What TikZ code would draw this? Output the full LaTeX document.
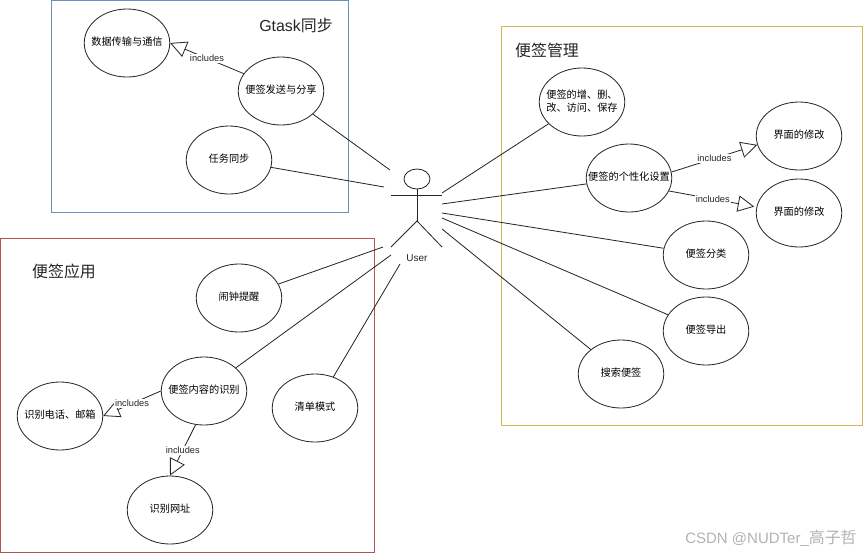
\documentclass[tikz,border=0pt]{standalone}
\usepackage{fontspec}
\setmainfont{Liberation Sans}
\newfontfamily\cjk{Noto Sans CJK SC}
\usepackage{tikz}
\usetikzlibrary{shapes,positioning,calc,arrows.meta}
\definecolor{boxblue}{HTML}{6C8EBF}
\definecolor{boxred}{HTML}{B85450}
\definecolor{boxyellow}{HTML}{D6B656}
\newcommand{\ucbox}[1]{\makebox[0pt]{\begin{tabular}{@{}c@{}}#1\end{tabular}}}

\begin{document}
\begin{tikzpicture}[
        x=0.03cm, y=-0.03cm,
        every node/.style={font=\fontsize{8.5}{10}\selectfont},
        usecase/.style={ellipse, draw=black!85, line width=0.7pt, inner sep=0pt, minimum width=2.565cm, minimum height=2.04cm, font=\cjk\fontsize{8.7}{11}\selectfont},
        title/.style={font=\cjk\fontsize{13.6}{16}\selectfont, text=black!85},
        link/.style={draw=black!85, line width=0.7pt},
        includes/.style={link, -{Triangle[open, length=14pt, width=14pt, line width=0.7pt]}},
        tag/.style={fill=white, inner sep=1pt, text=black!85, font=\fontsize{7.9}{9}\selectfont},
        actor/.style={draw=black!85, line width=0.7pt}
        ]
        \useasboundingbox (0,0) rectangle (864,553);

        \draw[boxblue, line width=0.7pt] (51,0.5) rectangle (348,212);
        \draw[boxred, line width=0.7pt] (0.5,238) rectangle (374,552);
        \draw[boxyellow, line width=0.7pt] (501,26) rectangle (862,425);

        \node[title] (gtasktitle) at (296,25) {{\fontspec{Liberation Sans}Gtask}同步};
        \node[title] (applytitle) at (64,271) {便签应用};
        \node[title] (managetitle) at (547,50) {便签管理};

        \node[usecase] (transfer) at (127,43) {\ucbox{数据传输与通信}};
        \node[usecase] (share) at (281,91) {\ucbox{便签发送与分享}};
        \node[usecase] (tasksync) at (229,160) {\ucbox{任务同步}};
        \node[usecase] (alarm) at (239,298) {\ucbox{闹钟提醒}};
        \node[usecase] (recognize) at (204,391) {\ucbox{便签内容的识别}};
        \node[usecase] (phone) at (60,416) {\ucbox{识别电话、邮箱}};
        \node[usecase] (website) at (170,510) {\ucbox{识别网址}};
        \node[usecase] (checklist) at (315,408) {\ucbox{清单模式}};
        \node[usecase] (crud) at (582,102) {\ucbox{便签的增、删、\\改、访问、保存}};
        \node[usecase] (custom) at (629,178) {\ucbox{便签的个性化设置}};
        \node[usecase] (uione) at (799,136) {\ucbox{界面的修改}};
        \node[usecase] (uitwo) at (799,213) {\ucbox{界面的修改}};
        \node[usecase] (classify) at (706,255) {\ucbox{便签分类}};
        \node[usecase] (export) at (706,331) {\ucbox{便签导出}};
        \node[usecase] (search) at (621,374) {\ucbox{搜索便签}};

        \node[ellipse, actor, inner sep=0pt, minimum width=0.78cm, minimum height=0.6cm] (head) at (417,179) {};
        \coordinate (armleft) at (391,195);
        \coordinate (armright) at (442,195);
        \coordinate (hip) at (417,221);
        \coordinate (footleft) at (391,247);
        \coordinate (footright) at (442,247);
        \node[text=black!85] (user) at (417,258) {User};
        \draw[actor] (head) -- (hip);
        \draw[actor] (armleft) -- (armright);
        \draw[actor] (footleft) -- (hip) -- (footright);

        \coordinate (ushare) at (390,170);
        \coordinate (utask) at (384,187);
        \coordinate (ualarm) at (383,247);
        \coordinate (urecognize) at (391,255);
        \coordinate (uchecklist) at (400,264);
        \coordinate (ucrud) at (442,193);
        \coordinate (ucustom) at (442,204);
        \coordinate (uclassify) at (442,213);
        \coordinate (uexport) at (442,218);
        \coordinate (usearch) at (442,229);

        \draw[link] (share) -- (ushare);
        \draw[link] (tasksync) -- (utask);
        \draw[link] (alarm) -- (ualarm);
        \draw[link] (recognize) -- (urecognize);
        \draw[link] (checklist) -- (uchecklist);
        \draw[link] (crud) -- (ucrud);
        \draw[link] (custom) -- (ucustom);
        \draw[link] (classify) -- (uclassify);
        \draw[link] (export) -- (uexport);
        \draw[link] (search) -- (usearch);

        \draw[includes] (share.155) -- node[tag] {includes} (transfer.0);
        \draw[includes] (recognize.180) -- node[tag] {includes} (phone.0);
        \draw[includes] (recognize.-104) -- node[tag] {includes} (website.90);
        \draw[includes] (custom.8) -- node[tag] {includes} (uione.192);
        \draw[includes, shorten >=2pt] (custom.-18) -- node[tag] {includes} (uitwo.172);

        \node[text=black!30, font=\fontsize{12.8}{15}\selectfont] (mark) at (771,538) {CSDN @NUDTer\_{\cjk\fontsize{13.6}{15}\selectfont 高子哲}};
    \end{tikzpicture}
\end{document}
